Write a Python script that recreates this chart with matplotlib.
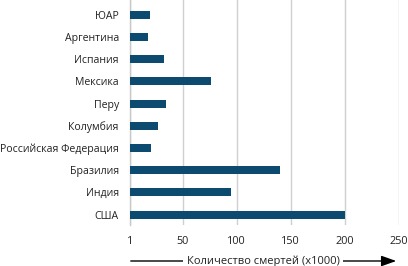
import matplotlib
matplotlib.use("Agg")
import matplotlib.pyplot as plt

plt.rcParams['font.family'] = ['Open Sans', 'DejaVu Sans']

countries = ["США", "Индия", "Бразилия", "Российская Федерация", "Колумбия",
             "Перу", "Мексика", "Испания", "Аргентина", "ЮАР"]
deaths = [200, 95, 140, 21, 27, 34, 76, 33, 18, 19.5]
xticks = [1, 50, 100, 150, 200, 250]
xlabel = "Количество смертей (x1000)"

W, H = 408, 266
fig = plt.figure(figsize=(W / 100, H / 100), dpi=100)
ax = fig.add_axes([129.9 / W, 1 - 225 / H, (398.7 - 129.9) / W, 225 / H])

y = list(range(len(countries)))
ax.barh(y, deaths, height=0.36, color="#0d4a70", zorder=3)
ax.set_xlim(1, 250)
ax.set_ylim(-0.47, 9.66)
ax.set_yticks(y)
ax.set_yticklabels(countries, fontsize=7.6, color="#222222")
ax.set_xticks(xticks)
ax.set_xticklabels([str(t) for t in xticks], fontsize=7.8, color="#222222")
ax.tick_params(axis="y", length=0, pad=8)
ax.tick_params(axis="x", length=0, pad=8)
ax.grid(axis="x", color="#d0d0d0", linewidth=1, zorder=0)
for s in ["top", "right", "bottom"]:
    ax.spines[s].set_visible(False)
ax.spines["left"].set_color("#c8c8c8")
ax.spines["left"].set_linewidth(1)

# arrow under axis with label
ya = 1 - 261 / H
fig.add_artist(matplotlib.patches.FancyArrowPatch(
    (128 / W, ya), (399 / W, ya), transform=fig.transFigure,
    arrowstyle="-|>,head_length=9,head_width=3.2", mutation_scale=1,
    color="black", linewidth=1))
fig.text(263 / W, ya, xlabel, ha="center", va="center", fontsize=8,
         color="#222222",
         bbox=dict(facecolor="white", edgecolor="none", pad=2.5))

fig.savefig("out.png", dpi=100)
